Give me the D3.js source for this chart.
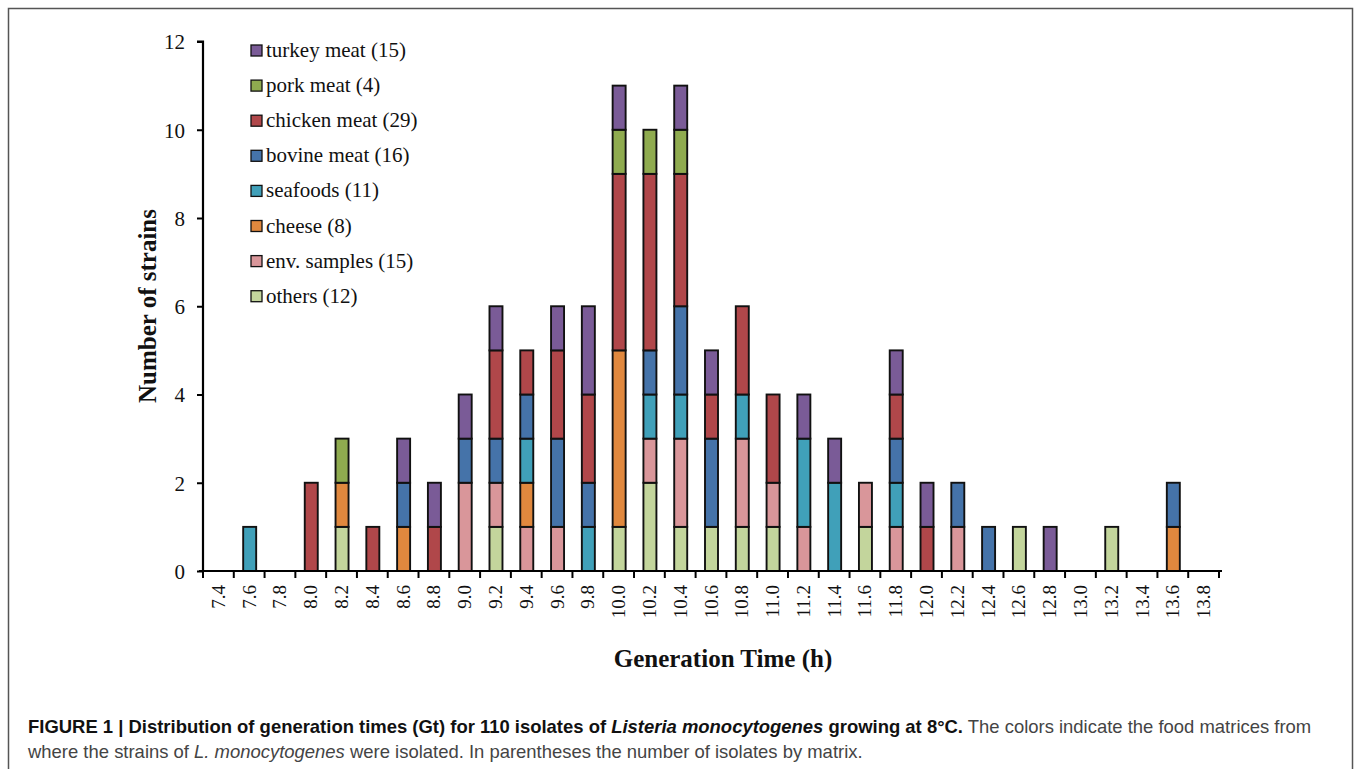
<!DOCTYPE html>
<html><head><meta charset="utf-8">
<script src="https://cdn.jsdelivr.net/npm/d3@7"></script>
<style>html,body{margin:0;padding:0;background:#fff;}svg{display:block;}</style>
</head><body>
<svg id="chart" width="1358" height="769"></svg>
<script>
const categories = ["7.4","7.6","7.8","8.0","8.2","8.4","8.6","8.8","9.0","9.2","9.4","9.6","9.8","10.0","10.2","10.4","10.6","10.8","11.0","11.2","11.4","11.6","11.8","12.0","12.2","12.4","12.6","12.8","13.0","13.2","13.4","13.6","13.8"];
const others   = [0,0,0,0,1,0,0,0,0,1,0,0,0,1,2,1,1,1,1,0,0,1,0,0,0,0,1,0,0,1,0,0,0];
const envSamples = [0,0,0,0,0,0,0,0,2,1,1,1,0,0,1,2,0,2,1,1,0,1,1,0,1,0,0,0,0,0,0,0,0];
const cheese   = [0,0,0,0,1,0,1,0,0,0,1,0,0,4,0,0,0,0,0,0,0,0,0,0,0,0,0,0,0,0,0,1,0];
const seafoods = [0,1,0,0,0,0,0,0,0,0,1,0,1,0,1,1,0,1,0,2,2,0,1,0,0,0,0,0,0,0,0,0,0];
const bovine   = [0,0,0,0,0,0,1,0,1,1,1,2,1,0,1,2,2,0,0,0,0,0,1,0,1,1,0,0,0,0,0,1,0];
const chicken  = [0,0,0,2,0,1,0,1,0,2,1,2,2,4,4,3,1,2,2,0,0,0,1,1,0,0,0,0,0,0,0,0,0];
const pork     = [0,0,0,0,1,0,0,0,0,0,0,0,0,1,1,1,0,0,0,0,0,0,0,0,0,0,0,0,0,0,0,0,0];
const turkey   = [0,0,0,0,0,0,1,1,1,1,0,1,2,1,0,1,1,0,0,1,1,0,1,1,0,0,0,1,0,0,0,0,0];
const yTicks = [0,2,4,6,8,10,12];

// bottom-to-top stacking order
const seriesKeys = ["others","env","cheese","seafoods","bovine","chicken","pork","turkey"];
const seriesData = {others, env: envSamples, cheese, seafoods, bovine, chicken, pork, turkey};
const legendKeys = ["turkey","pork","chicken","bovine","seafoods","cheese","env","others"];
const legendLabels = {turkey:"turkey meat (15)", pork:"pork meat (4)", chicken:"chicken meat (29)", bovine:"bovine meat (16)", seafoods:"seafoods (11)", cheese:"cheese (8)", env:"env. samples (15)", others:"others (12)"};
const colors = {turkey:"#7a5b97", pork:"#8fab4f", chicken:"#b0474a", bovine:"#4573a9", seafoods:"#40a0b9", cheese:"#e0883e", env:"#d9969a", others:"#c3d59c"};

const serif = "'Liberation Serif', 'Times New Roman', serif";
const svg = d3.select("#chart");
// outer frame
svg.append("rect").attr("x",8.5).attr("y",8.5).attr("width",1344).attr("height",790)
  .attr("fill","none").attr("stroke","#555").attr("stroke-width",1.5);

const x0 = 203, x1 = 1219, yBase = 571, yTop = 41.5;
const x = d3.scaleBand().domain(categories).range([x0,x1]).paddingInner(0).paddingOuter(0);
const y = d3.scaleLinear().domain([0,12]).range([yBase,yTop]);

const rows = categories.map((c,i)=>{const o={cat:c}; seriesKeys.forEach(k=>o[k]=seriesData[k][i]); return o;});
const stacked = d3.stack().keys(seriesKeys)(rows);
const bw = 13;
const g = svg.append("g");
stacked.forEach(layer=>{
  g.selectAll(null).data(layer.filter(d=>d[1]-d[0]>0)).enter().append("rect")
    .attr("x",d=>x(d.data.cat)+x.bandwidth()/2-bw/2+0.5)
    .attr("y",d=>y(d[1]))
    .attr("width",bw)
    .attr("height",d=>y(d[0])-y(d[1]))
    .attr("fill",colors[layer.key])
    .attr("stroke","#111").attr("stroke-width",1.9);
});

// y axis
const yAxis = d3.axisLeft(y).tickValues(yTicks).tickSize(6).tickPadding(12).tickFormat(d3.format("d"));
const ya = svg.append("g").attr("transform",`translate(${x0},0)`).call(yAxis);
ya.select(".domain").attr("stroke","#000").attr("stroke-width",2.2).attr("d",`M-6,${yTop}H0V${yBase}`);
ya.selectAll(".tick line").attr("stroke","#000").attr("stroke-width",2);
ya.selectAll(".tick text").attr("font-family",serif).attr("font-size",21).attr("fill","#111").attr("dy","0.35em");

// x axis with ticks at band boundaries
const xa = svg.append("g").attr("transform",`translate(0,${yBase})`);
xa.append("line").attr("x1",x0-4).attr("x2",x1+3).attr("y1",0).attr("y2",0).attr("stroke","#000").attr("stroke-width",2.2);
const bounds = categories.map(c=>x(c)).concat([x1]);
xa.selectAll(".xt").data(bounds).enter().append("line")
  .attr("x1",d=>d).attr("x2",d=>d).attr("y1",0).attr("y2",7).attr("stroke","#000").attr("stroke-width",2);
xa.selectAll(".xl").data(categories).enter().append("text")
  .attr("transform",d=>`translate(${x(d)+x.bandwidth()/2+6.5},14) rotate(-90)`)
  .attr("text-anchor","end")
  .attr("font-family",serif).attr("font-size",19).attr("fill","#111")
  .text(d=>d);

// axis titles
svg.append("text").attr("x",723).attr("y",667).attr("text-anchor","middle")
  .attr("font-family",serif).attr("font-weight","bold").attr("font-size",25).attr("fill","#111")
  .text("Generation Time (h)");
svg.append("text").attr("transform","translate(156,306) rotate(-90)").attr("text-anchor","middle")
  .attr("font-family",serif).attr("font-weight","bold").attr("font-size",25).attr("fill","#111")
  .text("Number of strains");

// legend
const lg = svg.append("g");
legendKeys.forEach((k,i)=>{
  const cy = 50 + i*35.1;
  lg.append("rect").attr("x",251).attr("y",cy-5).attr("width",11).attr("height",11)
    .attr("fill",colors[k]).attr("stroke","#111").attr("stroke-width",1.3);
  lg.append("text").attr("x",266).attr("y",cy+7)
    .attr("font-family",serif).attr("font-size",21).attr("fill","#111")
    .text(legendLabels[k]);
});

// caption
const capFont = "'Liberation Sans Narrow', 'Liberation Sans', Arial, sans-serif";
const capSize = 19;
const cap1 = svg.append("text").attr("font-family",capFont).attr("font-size",capSize).attr("fill","#222");
cap1.append("tspan").attr("font-weight","bold").attr("fill","#111").text("FIGURE 1 | Distribution of generation times (Gt) for 110 isolates of ");
cap1.append("tspan").attr("font-weight","bold").attr("font-style","italic").attr("fill","#111").text("Listeria monocytogenes");
cap1.append("tspan").attr("font-weight","bold").attr("fill","#111").text(" growing at 8°C.");
cap1.append("tspan").attr("fill","#444").text(" The colors indicate the food matrices from");
const cap2 = svg.append("text").attr("font-family",capFont).attr("font-size",capSize).attr("fill","#444");
cap2.append("tspan").text("where the strains of ");
cap2.append("tspan").attr("font-style","italic").text("L. monocytogenes");
cap2.append("tspan").text(" were isolated. In parentheses the number of isolates by matrix.");
// condense caption horizontally to fit the figure width
const w1 = cap1.node().getComputedTextLength();
const sx = 1284/w1;
cap1.attr("transform",`translate(28,733) scale(${sx},1)`);
cap2.attr("transform",`translate(28,758) scale(${sx},1)`);
</script>
</body></html>
